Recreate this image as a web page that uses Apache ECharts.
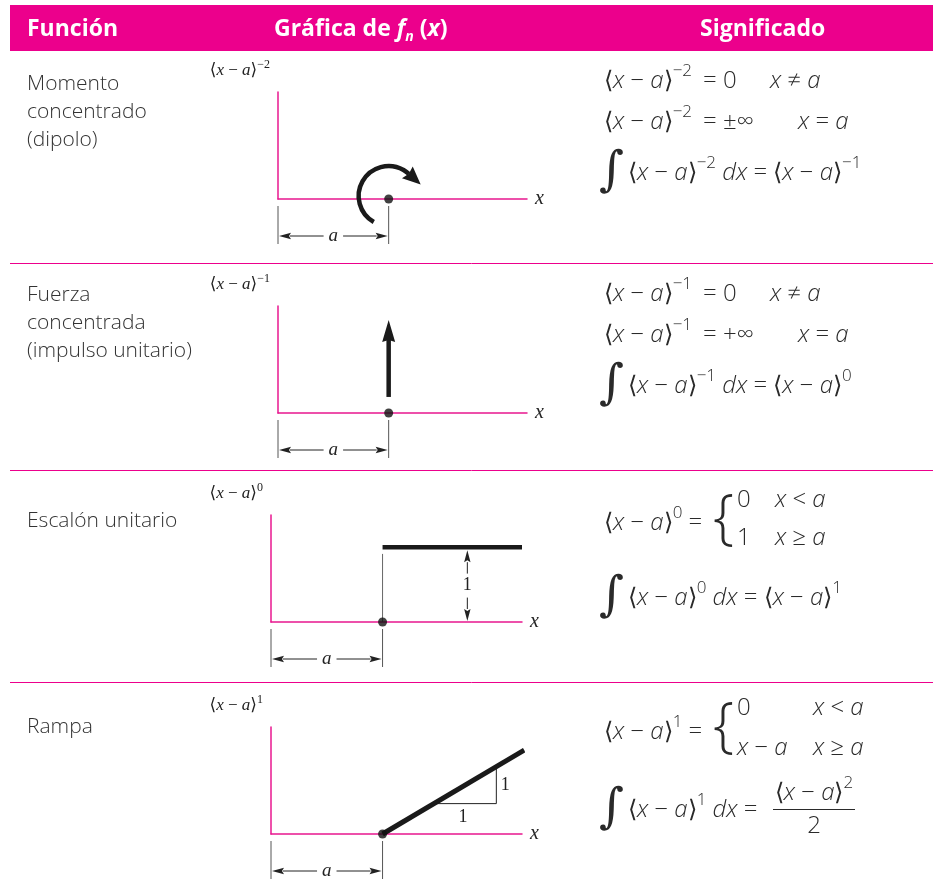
<!DOCTYPE html>
<html>
<head>
<meta charset="utf-8">
<script src="https://cdn.jsdelivr.net/npm/echarts@6/dist/echarts.min.js"></script>
<style>
  html, body { margin: 0; padding: 0; background: #fff; }
  #main { width: 933px; height: 892px; }
</style>
</head>
<body>
<div id="main"></div>
<script>
// ---- data ----
const headers = ['Función', 'Gráfica de ', 'Significado'];
const funcNames = [
  ['Momento', 'concentrado', '(dipolo)'],
  ['Fuerza', 'concentrada', '(impulso unitario)'],
  ['Escalón unitario'],
  ['Rampa']
];
const exponents = ['−2', '−1', '0', '1'];
const aLoc = 1;            // position of a on every x axis
const xMax = 2.25;
const yMaxes = [1, 1, 1.43, 1.62];
const impulse = [1, 0.15, 1, 0.87];          // x0, y0, x1, y1 of the force arrow
const step = [[1, 1], [2.25, 1]];
const stepGuide = [[1, 0.91], [1, 0]];
const unitArrow = [1.76, 0, 1];              // x, from y, to y
const ramp = [[1, 0], [2.27, 1.27]];
const slopeTri = [[1.47, 0.46], [2.02, 0.46], [2.02, 1.02]];
const slopeLabels = [[2.1, 0.74, 1], [1.72, 0.25, 1]];

// ---- styles ----
const MAGENTA = '#ec008c';
const AXIS = '#e8178f';
const INK = '#2a2a2a';
const SERIF = '"Liberation Serif", "DejaVu Serif", serif';
const SANS = '"Open Sans", Lato, "DejaVu Sans", sans-serif';

const chart = echarts.init(document.getElementById('main'));

const gridPos = [
  { left: 278, top: 92, width: 249, height: 107 },
  { left: 278, top: 306, width: 249, height: 107 },
  { left: 271, top: 515, width: 251, height: 107 },
  { left: 271, top: 727, width: 251, height: 107 }
];

function arrowHead(tip, ux, uy, len, half, color) {
  const bx = tip[0] - ux * len, by = tip[1] - uy * len;
  return {
    type: 'polygon',
    shape: { points: [tip, [bx - uy * half, by + ux * half], [bx + ux * 2, by + uy * 2], [bx + uy * half, by - ux * half]] },
    style: { fill: color || '#222' }
  };
}

function renderDim(params, api) {
  const o = api.coord([0, 0]);
  const p = api.coord([api.value(0), 0]);
  const yA = o[1] + 37, head = 12, half = 3.2;
  return {
    type: 'group',
    children: [
      { type: 'line', shape: { x1: o[0], y1: o[1] + 7, x2: o[0], y2: o[1] + 45 }, style: { stroke: '#555', lineWidth: 1 } },
      { type: 'line', shape: { x1: p[0], y1: o[1] + 7, x2: p[0], y2: o[1] + 45 }, style: { stroke: '#555', lineWidth: 1 } },
      { type: 'line', shape: { x1: o[0] + head, y1: yA, x2: p[0] - head, y2: yA }, style: { stroke: '#222', lineWidth: 1 } },
      arrowHead([o[0] + 1, yA], -1, 0, head, half),
      arrowHead([p[0] - 1, yA], 1, 0, head, half),
      { type: 'text', x: (o[0] + p[0]) / 2, y: yA,
        style: { text: 'a', fontFamily: SERIF, fontStyle: 'italic', fontSize: 19, fill: '#222',
                 align: 'center', verticalAlign: 'middle', backgroundColor: '#fff', padding: [0, 5] } }
    ]
  };
}

function renderMoment(params, api) {
  const c = api.coord([api.value(0), api.value(1)]);
  const cx = c[0], cy = c[1] - 3, r = 30;
  const a0 = 2.09, a1 = 5.45, L = 18;
  const ex = cx + r * Math.cos(a1), ey = cy + r * Math.sin(a1);
  const tx = -Math.sin(a1), ty = Math.cos(a1);
  return {
    type: 'group',
    children: [
      { type: 'arc', shape: { cx: cx, cy: cy, r: r, startAngle: a0, endAngle: a1, clockwise: true },
        style: { stroke: '#1a1a1a', lineWidth: 4.5, fill: null } },
      arrowHead([ex + tx * (L - 2), ey + ty * (L - 2)], tx, ty, L, 8, '#1a1a1a')
    ]
  };
}

function renderImpulse(params, api) {
  const p0 = api.coord([api.value(0), api.value(1)]);
  const p1 = api.coord([api.value(2), api.value(3)]);
  const L = 22;
  return {
    type: 'group',
    children: [
      { type: 'line', shape: { x1: p0[0], y1: p0[1], x2: p1[0], y2: p1[1] + L - 2 }, style: { stroke: '#1a1a1a', lineWidth: 4.5 } },
      arrowHead(p1, 0, -1, L, 6.5, '#1a1a1a')
    ]
  };
}

function renderUnit(params, api) {
  const b = api.coord([api.value(0), api.value(1)]);
  const t = api.coord([api.value(0), api.value(2)]);
  const top = t[1] + 3, bot = b[1] - 1, head = 12, half = 3.2;
  return {
    type: 'group',
    children: [
      { type: 'line', shape: { x1: b[0], y1: top + head, x2: b[0], y2: bot - head }, style: { stroke: '#222', lineWidth: 1 } },
      arrowHead([b[0], top], 0, -1, head, half),
      arrowHead([b[0], bot], 0, 1, head, half),
      { type: 'text', x: b[0], y: (top + bot) / 2,
        style: { text: '1', fontFamily: SERIF, fontSize: 18, fill: '#222', align: 'center', verticalAlign: 'middle',
                 backgroundColor: '#fff', padding: [3, 0] } }
    ]
  };
}

function renderLabel(params, api) {
  const p = api.coord([api.value(0), api.value(1)]);
  return { type: 'text', x: p[0], y: p[1],
    style: { text: String(api.value(2)), fontFamily: SERIF, fontSize: 18, fill: '#222', align: 'center', verticalAlign: 'middle' } };
}

const grids = [], xAxes = [], yAxes = [], series = [];
gridPos.forEach(function (g, i) {
  grids.push(g);
  xAxes.push({
    gridIndex: i, type: 'value', min: 0, max: xMax,
    axisLine: { lineStyle: { color: AXIS, width: 1.5 } },
    axisTick: { show: false }, axisLabel: { show: false }, splitLine: { show: false },
    name: 'x', nameLocation: 'end', nameGap: 8,
    nameTextStyle: { fontFamily: SERIF, fontStyle: 'italic', fontSize: 20, color: '#222', verticalAlign: 'middle' }
  });
  yAxes.push({
    gridIndex: i, type: 'value', min: 0, max: yMaxes[i],
    axisLine: { lineStyle: { color: AXIS, width: 1.5 } },
    axisTick: { show: false }, axisLabel: { show: false }, splitLine: { show: false },
    name: '{m|⟨}{v|x}{m| − }{v|a}{m|⟩}{s|' + exponents[i] + '}',
    nameLocation: 'end', nameGap: 9,
    nameTextStyle: {
      align: 'right', verticalAlign: 'bottom', padding: [0, 8, 0, 0], lineHeight: 24,
      rich: {
        m: { fontFamily: SERIF, fontSize: 17, color: '#222', lineHeight: 24 },
        v: { fontFamily: SERIF, fontStyle: 'italic', fontSize: 17, color: '#222', lineHeight: 24 },
        s: { fontFamily: SERIF, fontSize: 12, color: '#222', verticalAlign: 'top', lineHeight: 6 }
      }
    }
  });
  series.push({
    type: 'custom', name: 'dim' + i, xAxisIndex: i, yAxisIndex: i, data: [[aLoc]],
    renderItem: renderDim, silent: true, z: 2
  });
  series.push({
    type: 'scatter', name: 'a' + i, xAxisIndex: i, yAxisIndex: i, data: [[aLoc, 0]],
    symbolSize: 9, itemStyle: { color: '#111' }, silent: true, z: 6
  });
});

series.push({ type: 'custom', xAxisIndex: 0, yAxisIndex: 0, data: [[aLoc, 0]], renderItem: renderMoment, silent: true, z: 4 });
series.push({ type: 'custom', xAxisIndex: 1, yAxisIndex: 1, data: [impulse], renderItem: renderImpulse, silent: true, z: 4 });
series.push({ type: 'line', xAxisIndex: 2, yAxisIndex: 2, data: stepGuide, symbol: 'none', clip: false,
  lineStyle: { color: '#666', width: 1 }, silent: true, z: 1 });
series.push({ type: 'line', xAxisIndex: 2, yAxisIndex: 2, data: step, symbol: 'none', clip: false,
  lineStyle: { color: '#1a1a1a', width: 4.5 }, silent: true, z: 4 });
series.push({ type: 'custom', xAxisIndex: 2, yAxisIndex: 2, data: [unitArrow], renderItem: renderUnit, silent: true, z: 3 });
series.push({ type: 'line', xAxisIndex: 3, yAxisIndex: 3, data: slopeTri, symbol: 'none', clip: false,
  lineStyle: { color: '#222', width: 1 }, silent: true, z: 3 });
series.push({ type: 'line', xAxisIndex: 3, yAxisIndex: 3, data: ramp, symbol: 'none', clip: false,
  lineStyle: { color: '#1a1a1a', width: 5 }, silent: true, z: 4 });
series.push({ type: 'custom', xAxisIndex: 3, yAxisIndex: 3, data: slopeLabels, renderItem: renderLabel, silent: true, z: 4 });

// ---- table text ----
const FS = 24;
const FR = {
  n: { fill: INK, fontFamily: SANS, fontWeight: 300, fontSize: FS, lineHeight: 36 },
  v: { fill: INK, fontFamily: SANS, fontWeight: 300, fontStyle: 'italic', fontSize: FS, lineHeight: 36 },
  b: { fill: INK, fontFamily: SANS, fontWeight: 300, fontSize: FS, lineHeight: 36 },
  s: { fill: INK, fontFamily: SANS, fontWeight: 300, fontSize: 17, lineHeight: 14, verticalAlign: 'top' }
};
function ang(e) {
  return '{b|⟨}{v|x}{n| − }{v|a}{b|⟩}' + (e ? '{s|' + e + '}' : '');
}
function ftext(x, y, t, align) {
  return { type: 'text', x: x, y: y, silent: true,
    style: { text: t, rich: FR, fill: INK, fontFamily: SANS, fontWeight: 300, fontSize: FS,
             align: align || 'left', verticalAlign: 'middle' } };
}
function big(x, y, ch, size, family) {
  return { type: 'text', x: x, y: y, silent: true,
    style: { text: ch, fill: INK, fontFamily: family || SANS, fontWeight: 300, fontSize: size,
             align: 'left', verticalAlign: 'middle' } };
}
const INTF = '"DejaVu Serif", serif';

const graphics = [
  { type: 'rect', shape: { x: 10, y: 5, width: 923, height: 46 }, style: { fill: MAGENTA }, silent: true },
  { type: 'text', x: 27, y: 29, silent: true, style: { text: headers[0], fill: '#fff', fontFamily: SANS, fontWeight: 'bold', fontSize: 23, verticalAlign: 'middle' } },
  { type: 'text', x: 274, y: 29, silent: true, style: {
      text: '{h|' + headers[1] + '}{i|f}{u|n}{h| (}{i|x}{h|)}', verticalAlign: 'middle',
      rich: {
        h: { fill: '#fff', fontFamily: SANS, fontWeight: 'bold', fontSize: 23, lineHeight: 30 },
        i: { fill: '#fff', fontFamily: SANS, fontWeight: 'bold', fontStyle: 'italic', fontSize: 23, lineHeight: 30 },
        u: { fill: '#fff', fontFamily: SANS, fontWeight: 'bold', fontStyle: 'italic', fontSize: 14, lineHeight: 14, verticalAlign: 'bottom' }
      } } },
  { type: 'text', x: 700, y: 29, silent: true, style: { text: headers[2], fill: '#fff', fontFamily: SANS, fontWeight: 'bold', fontSize: 23, verticalAlign: 'middle' } }
];
[263.5, 470.5, 682.5].forEach(function (y) {
  graphics.push({ type: 'line', shape: { x1: 10, y1: y, x2: 933, y2: y }, style: { stroke: MAGENTA, lineWidth: 1 }, silent: true });
});
[70, 281, 507, 713].forEach(function (y, i) {
  graphics.push({ type: 'text', x: 27, y: y, silent: true,
    style: { text: funcNames[i].join('\n'), fill: '#333', fontFamily: SANS, fontWeight: 300, fontSize: 21, lineHeight: 28, verticalAlign: 'top' } });
});

// row 1
graphics.push(ftext(604, 81, ang('−2')), ftext(703, 81, '{n|= 0}'), ftext(770, 81, '{v|x}{n| ≠ }{v|a}'));
graphics.push(ftext(604, 122, ang('−2')), ftext(703, 122, '{n|= ±∞}'), ftext(798, 122, '{v|x}{n| = }{v|a}'));
graphics.push(big(599, 173, '∫', 48, INTF), ftext(628, 173, ang('−2') + '{n| }{v|dx}{n| = }' + ang('−1')));
// row 2
graphics.push(ftext(604, 294, ang('−1')), ftext(703, 294, '{n|= 0}'), ftext(770, 294, '{v|x}{n| ≠ }{v|a}'));
graphics.push(ftext(604, 335, ang('−1')), ftext(703, 335, '{n|= +∞}'), ftext(798, 335, '{v|x}{n| = }{v|a}'));
graphics.push(big(599, 386, '∫', 48, INTF), ftext(628, 386, ang('−1') + '{n| }{v|dx}{n| = }' + ang('0')));
// row 3
graphics.push(ftext(604, 523, ang('0') + '{n| =}'), big(713, 521, '{', 60));
graphics.push(ftext(737, 500, '{n|0}'), ftext(775, 500, '{v|x}{n| < }{v|a}'));
graphics.push(ftext(737, 538, '{n|1}'), ftext(775, 538, '{v|x}{n| ≥ }{v|a}'));
graphics.push(big(599, 598, '∫', 48, INTF), ftext(628, 598, ang('0') + '{n| }{v|dx}{n| = }' + ang('1')));
// row 4
graphics.push(ftext(604, 732, ang('1') + '{n| =}'), big(713, 729, '{', 60));
graphics.push(ftext(737, 708, '{n|0}'), ftext(813, 708, '{v|x}{n| < }{v|a}'));
graphics.push(ftext(737, 748, '{v|x}{n| − }{v|a}'), ftext(813, 748, '{v|x}{n| ≥ }{v|a}'));
graphics.push(big(599, 810, '∫', 48, INTF), ftext(628, 810, ang('1') + '{n| }{v|dx}{n| =}'));
graphics.push(ftext(814, 793, ang('2'), 'center'), ftext(814, 826, '{n|2}', 'center'));
graphics.push({ type: 'line', shape: { x1: 773, y1: 809.5, x2: 855, y2: 809.5 }, style: { stroke: INK, lineWidth: 1 }, silent: true });

chart.setOption({
  animation: false,
  grid: grids,
  xAxis: xAxes,
  yAxis: yAxes,
  series: series,
  graphic: { elements: graphics }
});
</script>
</body>
</html>
